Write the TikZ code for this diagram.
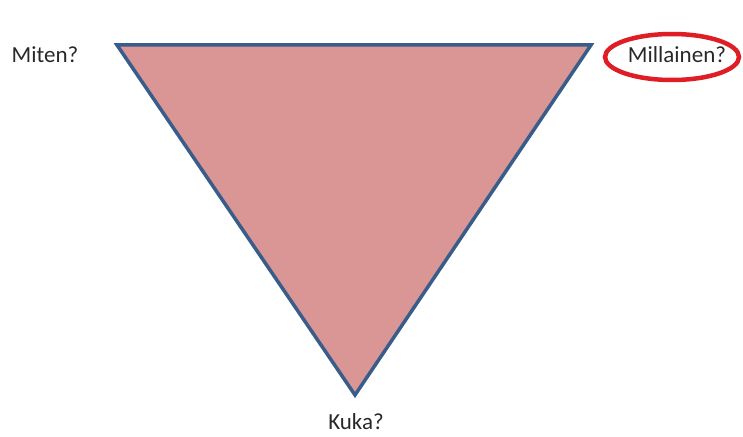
\documentclass[tikz,border=0pt]{standalone}
\usepackage{fontspec}
\setmainfont{Carlito}
\definecolor{trifill}{RGB}{217,150,148}
\definecolor{triline}{RGB}{56,93,138}
\definecolor{ringred}{RGB}{222,30,36}
\definecolor{txt}{RGB}{40,40,40}
\begin{document}
\begin{tikzpicture}[x=1pt,y=-1pt,
  lbl/.style={font=\fontsize{23}{27}\selectfont, text=txt, inner sep=0pt, anchor=base}]
\useasboundingbox (0,0) rectangle (743,436);
\coordinate (tl) at (117,45);
\coordinate (tr) at (591,45);
\coordinate (bt) at (355,395);
\draw[triline, line width=3.5pt, fill=trifill, line join=miter] (tl) -- (tr) -- (bt) -- cycle;
\node[lbl] (miten) at (45,63) {Miten?};
\node[lbl] (millainen) at (677,63) {Millainen?};
\node[lbl] (kuka) at (356,429) {Kuka?};
\draw[ringred, line width=4.5pt] (672,57) ellipse [x radius=67, y radius=23];
\end{tikzpicture}
\end{document}
